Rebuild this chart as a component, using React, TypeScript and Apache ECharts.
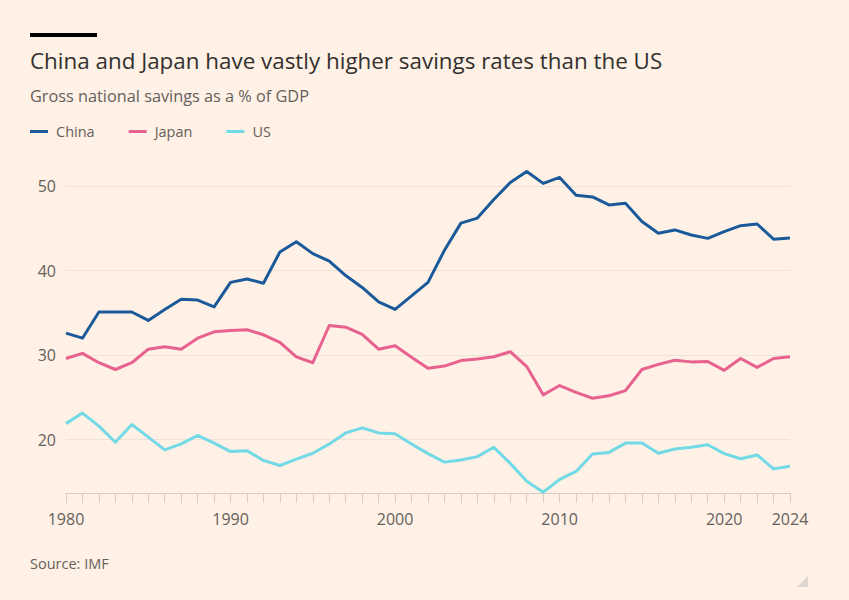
import React, { useEffect, useRef } from "react";
import * as echarts from "echarts";

const years: number[] = [];
for (let y = 1980; y <= 2024; y++) years.push(y);

const china = [
  32.6, 32.0, 35.1, 35.1, 35.1, 34.1, 35.4, 36.6, 36.5, 35.7,
  38.6, 39.0, 38.5, 42.2, 43.4, 42.0, 41.1, 39.4, 38.0, 36.3,
  35.4, 37.0, 38.6, 42.4, 45.6, 46.2, 48.4, 50.4, 51.7, 50.3,
  51.0, 48.9, 48.7, 47.75, 47.95, 45.8, 44.4, 44.8, 44.2, 43.8,
  44.6, 45.3, 45.5, 43.7, 43.85,
];
const japan = [
  29.6, 30.2, 29.1, 28.3, 29.1, 30.7, 31.0, 30.7, 32.0, 32.75,
  32.9, 33.0, 32.4, 31.5, 29.8, 29.1, 33.5, 33.3, 32.45, 30.7,
  31.1, 29.75, 28.45, 28.7, 29.35, 29.55, 29.8, 30.4, 28.65, 25.3,
  26.4, 25.6, 24.9, 25.2, 25.8, 28.3, 28.9, 29.4, 29.2, 29.25,
  28.2, 29.6, 28.55, 29.6, 29.8,
];
const us = [
  21.9, 23.15, 21.6, 19.7, 21.8, 20.3, 18.8, 19.5, 20.5, 19.6,
  18.6, 18.7, 17.55, 16.95, 17.7, 18.4, 19.5, 20.8, 21.4, 20.8,
  20.7, 19.5, 18.35, 17.35, 17.6, 18.0, 19.1, 17.2, 15.1, 13.8,
  15.3, 16.25, 18.3, 18.5, 19.6, 19.6, 18.4, 18.9, 19.1, 19.4,
  18.35, 17.75, 18.2, 16.55, 16.85,
];
const seriesNames = ["China", "Japan", "US"];
const seriesColors = ["#1b5a9a", "#e8628f", "#72d9e6"];
const xLabelYears = [1980, 1990, 2000, 2010, 2020, 2024];

const FONT = "Open Sans";

export default function App() {
  const ref = useRef<HTMLDivElement>(null);
  useEffect(() => {
    document.body.style.margin = "0";
    const chart = echarts.init(ref.current!, null, { renderer: "svg" });
    const allData = [china, japan, us];
    chart.setOption({
      animation: false,
      backgroundColor: "#fff1e5",
      textStyle: { fontFamily: FONT },
      title: [
        {
          text: "China and Japan have vastly higher savings rates than the US",
          left: 30,
          top: 49,
          padding: 0,
          textStyle: { fontFamily: FONT, fontSize: 22.4, fontWeight: "normal", color: "#33302e" },
        },
        {
          text: "Gross national savings as a % of GDP",
          left: 30,
          top: 88,
          padding: 0,
          textStyle: { fontFamily: FONT, fontSize: 16.3, fontWeight: "normal", color: "#66605c" },
        },
        {
          text: "Source: IMF",
          left: 30,
          top: 556,
          padding: 0,
          textStyle: { fontFamily: FONT, fontSize: 14.5, fontWeight: "normal", color: "#66605c" },
        },
      ],
      graphic: [
        { type: "rect", shape: { x: 30, y: 33, width: 67, height: 4 }, style: { fill: "#000000" } },
        {
          type: "polygon",
          shape: { points: [[808, 576], [808, 587], [797, 587]] },
          style: { fill: "#e0d8d0" },
        },
      ],
      legend: {
        left: 30,
        top: 124,
        padding: 0,
        icon: "rect",
        itemWidth: 18,
        itemHeight: 3,
        itemGap: 34,
        textStyle: { fontFamily: FONT, fontSize: 14.5, color: "#66605c", padding: [0, 0, 0, 3] },
        data: seriesNames,
      },
      grid: { left: 66, right: 59, top: 169, bottom: 107, outerBoundsMode: "none" },
      xAxis: {
        type: "value",
        min: 1980,
        max: 2024,
        interval: 1,
        axisLine: { show: true, lineStyle: { color: "#d6ccc2", width: 1 } },
        axisTick: { show: true, length: 10, lineStyle: { color: "#d6ccc2", width: 1 } },
        splitLine: { show: false },
        axisLabel: {
          margin: 18,
          fontFamily: FONT,
          fontSize: 16,
          color: "#66605c",
          formatter: (v: number) => (xLabelYears.includes(v) ? String(v) : ""),
        },
      },
      yAxis: {
        type: "value",
        min: 13.7,
        max: 52,
        splitNumber: 4,
        axisLine: { show: false },
        axisTick: { show: false },
        axisLabel: {
          showMinLabel: false,
          showMaxLabel: false,
          margin: 10,
          fontFamily: FONT,
          fontSize: 16,
          color: "#66605c",
        },
        splitLine: {
          show: true,
          showMinLine: false,
          showMaxLine: false,
          lineStyle: { color: "#efe2d6", width: 1 },
        },
      },
      series: seriesNames.map((name, i) => ({
        name,
        type: "line",
        symbol: "none",
        color: seriesColors[i],
        lineStyle: { width: 3, color: seriesColors[i], join: "round" },
        data: years.map((y, j) => [y, allData[i][j]]),
      })),
    });
    return () => chart.dispose();
  }, []);
  return (
    <div
      ref={ref}
      style={{ position: "absolute", left: 0, top: 0, width: 849, height: 600 }}
    />
  );
}
